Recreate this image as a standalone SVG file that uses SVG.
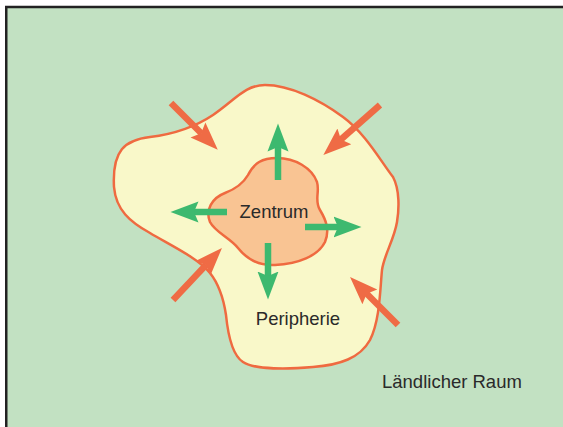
<svg xmlns="http://www.w3.org/2000/svg" width="563" height="427" viewBox="0 0 563 427">
  <style>
    .lbl { font-family: "Liberation Sans", Arial, sans-serif; font-size: 18.5px; fill: #2a2a2a; }
    .ga { stroke: #3db96f; stroke-width: 6.5; fill: none; }
    .oa { stroke: #ef6b45; stroke-width: 6.5; fill: none; }
    .blob { stroke: #ef6a40; stroke-width: 2.5; }
  </style>
  <defs>
    <marker id="gh" markerUnits="userSpaceOnUse" markerWidth="30" markerHeight="24" viewBox="0 -12 30 24" refX="5" refY="0" orient="auto">
      <path d="M28,0 L0,-10.5 L4.5,0 L0,10.5 Z" fill="#3db96f"/>
    </marker>
    <marker id="oh" markerUnits="userSpaceOnUse" markerWidth="30" markerHeight="24" viewBox="0 -12 30 24" refX="5" refY="0" orient="auto">
      <path d="M28,0 L0,-10.5 L4.5,0 L0,10.5 Z" fill="#ef6b45"/>
    </marker>
  </defs>
  <rect x="0" y="0" width="563" height="427" fill="#ffffff"/>
  <rect x="6.25" y="7" width="620" height="500" fill="#c2e1c2" stroke="#222222" stroke-width="2.5"/>

  <g id="laendlicher-raum">
    <text class="lbl" x="382" y="388">Ländlicher Raum</text>
  </g>

  <g id="peripherie">
    <path class="blob" fill="#f9f8c9" d="M114,187 C112,150 125,140 150,137 C175,134 195,127 213,115 C235,100 245,85 265,85 C290,85 320,100 343,117 C365,133 380,160 393,177 C400,190 399,210 397,222 C394,240 384,255 382,270 C380,290 380,320 370,340 C360,358 340,365 313,367 C290,369 255,370 243,362 C232,355 228,335 226,315 C223,295 218,283 210,273 C198,258 170,245 150,233 C130,222 116,210 114,187 Z"/>
    <text class="lbl" x="298" y="325" text-anchor="middle">Peripherie</text>
  </g>

  <g id="zentrum">
    <path class="blob" fill="#f9c493" d="M277,158 C295,158 312,168 317,182 C320,192 314,200 320,210 C326,220 330,230 325,242 C318,256 298,264 275,265 C258,266 246,258 238,248 C230,238 215,232 210,222 C205,210 212,198 225,193 C238,188 244,182 248,175 C254,163 262,158 277,158 Z"/>
    <text class="lbl" x="274" y="217.5" text-anchor="middle">Zentrum</text>
  </g>

  <g id="connectors">
    <line class="ga" x1="278" y1="180" x2="278" y2="146.5" marker-end="url(#gh)"/>
    <line class="ga" x1="227" y1="212" x2="193.5" y2="212" marker-end="url(#gh)"/>
    <line class="ga" x1="305" y1="227" x2="338.5" y2="227" marker-end="url(#gh)"/>
    <line class="ga" x1="268" y1="243" x2="268" y2="276.5" marker-end="url(#gh)"/>

    <line class="oa" x1="171" y1="103" x2="201.5" y2="133.5" marker-end="url(#oh)"/>
    <line class="oa" x1="380" y1="105" x2="340.6" y2="139.8" marker-end="url(#oh)"/>
    <line class="oa" x1="173" y1="300" x2="206.2" y2="264.7" marker-end="url(#oh)"/>
    <line class="oa" x1="398" y1="325" x2="366.3" y2="293.3" marker-end="url(#oh)"/>
  </g>
</svg>
